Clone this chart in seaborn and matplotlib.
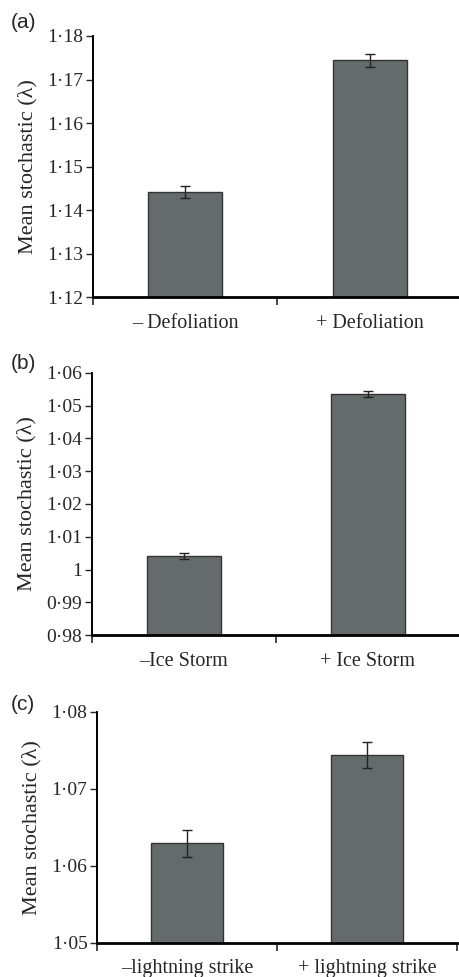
import matplotlib
matplotlib.use("Agg")
import matplotlib.pyplot as plt
import seaborn as sns
import pandas as pd

# panel data
labels_a = ["– Defoliation", "+ Defoliation"]
means_a = [1.1441, 1.1744]
errs_a = [0.0014, 0.0015]
yticks_a = [1.12, 1.13, 1.14, 1.15, 1.16, 1.17, 1.18]
yticklabels_a = ["1·12", "1·13", "1·14", "1·15", "1·16", "1·17", "1·18"]

labels_b = ["–Ice Storm", "+ Ice Storm"]
means_b = [1.0041, 1.0535]
errs_b = [0.0010, 0.0010]
yticks_b = [0.98, 0.99, 1.00, 1.01, 1.02, 1.03, 1.04, 1.05, 1.06]
yticklabels_b = ["0·98", "0·99", "1", "1·01", "1·02", "1·03", "1·04", "1·05", "1·06"]

labels_c = ["–lightning strike", "+ lightning strike"]
means_c = [1.0629, 1.0744]
errs_c = [0.0017, 0.0017]
yticks_c = [1.05, 1.06, 1.07, 1.08]
yticklabels_c = ["1·05", "1·06", "1·07", "1·08"]

sns.set_style("ticks")
plt.rcParams['font.family'] = ['Liberation Serif', 'DejaVu Serif']

BAR_COLOR = "#656b6d"

fig = plt.figure(figsize=(4.6, 9.77), dpi=100)

panels = [
    ("(a)", labels_a, means_a, errs_a, yticks_a, yticklabels_a,
     [93 / 460, 1 - 297 / 977, 369 / 460, 261 / 977], 22),
    ("(b)", labels_b, means_b, errs_b, yticks_b, yticklabels_b,
     [91.7 / 460, 1 - 635.3 / 977, 368.3 / 460, 262.6 / 977], 364),
    ("(c)", labels_c, means_c, errs_c, yticks_c, yticklabels_c,
     [97.3 / 460, 1 - 942.7 / 977, 360 / 460, 230.7 / 977], 704),
]

for tag, labels, means, errs, yticks, yticklabels, rect, tag_y in panels:
    ax = fig.add_axes(rect)
    df = pd.DataFrame({"group": labels, "value": means})
    sns.barplot(data=df, x="group", y="value", color=BAR_COLOR, width=0.4,
                edgecolor="#333333", linewidth=1.0, saturation=1, ax=ax)
    ax.errorbar(x=list(range(len(means))), y=means, yerr=errs, fmt="none",
                ecolor="#222222", elinewidth=1.0, capsize=3.5, capthick=1.0)
    ax.set_xlim(-0.5, 1.5)
    ax.set_ylim(yticks[0], yticks[-1])
    ax.set_yticks(yticks)
    ax.set_yticklabels(yticklabels, fontsize=14)
    ax.set_xticks([0, 1])
    ax.set_xticklabels(labels, fontsize=14.5)
    ax.set_xticks([-0.5, 0.5, 1.5], minor=True)
    ax.tick_params(axis="x", which="major", length=0, pad=12)
    ax.tick_params(axis="x", which="minor", length=6, width=1.2, direction="out")
    ax.tick_params(axis="y", length=5, width=1.0, direction="out", pad=2)
    ax.set_xlabel("")
    ax.set_ylabel("Mean stochastic (λ)", fontsize=16, labelpad=7)
    sns.despine(ax=ax)
    ax.spines["left"].set_linewidth(1.4)
    ax.spines["bottom"].set_linewidth(2.0)
    ax.spines["left"].set_color("black")
    ax.spines["bottom"].set_color("black")
    fig.text(11 / 460, 1 - tag_y / 977, tag, fontsize=15,
             family=["Liberation Sans", "DejaVu Sans"], va="center", ha="left")

fig.savefig("out.png", dpi=100)
